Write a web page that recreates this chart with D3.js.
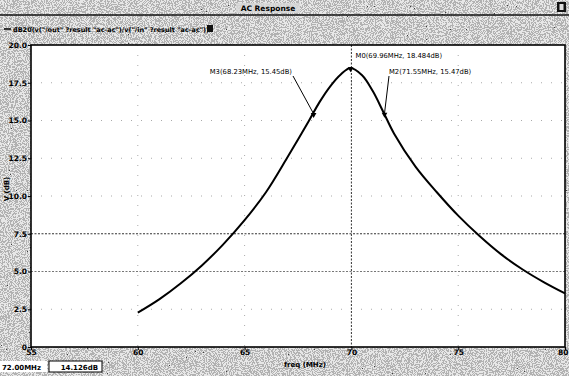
<!DOCTYPE html>
<html><head><meta charset="utf-8">
<script src="https://cdn.jsdelivr.net/npm/d3@7"></script>
<style>
html,body{margin:0;padding:0;background:#fff;}
svg{display:block;font-family:"DejaVu Sans",sans-serif;}
</style></head>
<body>
<svg id="c" width="569" height="376"></svg>
<script>
// ---- data ----
const freqMHz = [60, 61, 62, 63, 64, 65, 66, 67, 68, 68.5, 69, 69.5, 69.96, 70.5, 71, 71.5, 72, 73, 74, 75, 76, 77, 78, 79, 80];
const gainDB  = [2.27, 3.15, 4.2, 5.4, 6.8, 8.4, 10.25, 12.55, 14.95, 16.2, 17.25, 18.05, 18.484, 18.0, 16.95, 15.55, 14.126, 11.95, 10.25, 8.7, 7.35, 6.15, 5.15, 4.3, 3.55];
const markerNames = ["M0", "M3", "M2"];
const markerFreq  = [69.96, 68.23, 71.55];
const markerGain  = [18.484, 15.45, 15.47];
const markerText  = ["M0(69.96MHz, 18.484dB)", "M3(68.23MHz, 15.45dB)", "M2(71.55MHz, 15.47dB)"];
const xTicks = [55, 60, 65, 70, 75, 80];
const yTicks = [0, 2.5, 5, 7.5, 10, 12.5, 15, 17.5, 20];
const yTickLabels = ["0", "2.5", "5.0", "7.5", "10.0", "12.5", "15.0", "17.5", "20.0"];
const titleText = "AC Response";
const legendText = "dB20(v(\"/out\" ?result \"ac-ac\")/v(\"/in\" ?result \"ac-ac\"))";
const xTitle = "freq (MHz)";
const yTitle = "V (dB)";
const cursorFreqText = "72.00MHz";
const cursorValText = "14.126dB";

const svg = d3.select("#c");
const W = 569, H = 376;
const L = 31, R = 565, T = 45, B = 347;

// speckled (scanned) background
const defs = svg.append("defs");
const f = defs.append("filter").attr("id","noise").attr("x",0).attr("y",0).attr("width","100%").attr("height","100%");
f.append("feTurbulence").attr("type","fractalNoise").attr("baseFrequency",0.95).attr("numOctaves",2).attr("seed",7);
f.append("feColorMatrix").attr("type","saturate").attr("values",0);
const ct = f.append("feComponentTransfer");
["feFuncR","feFuncG","feFuncB"].forEach(n=>ct.append(n).attr("type","discrete").attr("tableValues","0.05 0.45 0.8 1"));
ct.append("feFuncA").attr("type","linear").attr("slope",0).attr("intercept",1);

svg.append("rect").attr("width",W).attr("height",H).attr("fill","#a8a8a8");
svg.append("rect").attr("width",W).attr("height",H).attr("filter","url(#noise)");

// title bar line
svg.append("line").attr("x1",0).attr("x2",W).attr("y1",15).attr("y2",15).attr("stroke","#111").attr("stroke-width",1.5);
svg.append("rect").attr("x",236).attr("y",3).attr("width",64).attr("height",10).attr("fill","#d8d8d8").attr("opacity",0.8);
svg.append("text").attr("x",268).attr("y",10.5).attr("text-anchor","middle")
  .attr("font-size",7.5).attr("font-weight","bold").attr("fill","#000").text(titleText);
svg.append("rect").attr("x",557).attr("y",2).attr("width",9).attr("height",10).attr("fill","#111");
svg.append("rect").attr("x",559.5).attr("y",4).attr("width",4).attr("height",6).attr("fill","#ddd");

// legend row
svg.append("line").attr("x1",4).attr("x2",11).attr("y1",29).attr("y2",29).attr("stroke","#000").attr("stroke-width",1.5);
svg.append("text").attr("x",13).attr("y",31.5).attr("font-size",6.5).attr("font-weight","bold").attr("fill","#000").text(legendText);
svg.append("rect").attr("x",207).attr("y",25).attr("width",6).attr("height",7).attr("fill","#111");

// plot area
svg.append("rect").attr("x",L).attr("y",T).attr("width",R-L).attr("height",B-T).attr("fill","#fff");

const x = d3.scaleLinear().domain([55,80]).range([L,R]);
const y = d3.scaleLinear().domain([0,20]).range([B,T]);

// grid
const g = svg.append("g");
g.selectAll("line.gy").data(yTicks.filter(v=>v>0&&v<20)).join("line")
  .attr("x1",L).attr("x2",R).attr("y1",d=>y(d)).attr("y2",d=>y(d))
  .attr("stroke",d=>d===7.5?"#333":(d===5?"#777":"#aaa"))
  .attr("stroke-width",1).attr("stroke-dasharray",d=>(d===7.5||d===5)?"2,1.5":"1,9");
g.selectAll("line.gx").data(xTicks.filter(v=>v>55&&v<80)).join("line")
  .attr("y1",T).attr("y2",B).attr("x1",d=>x(d)).attr("x2",d=>x(d))
  .attr("stroke",d=>d===70?"#333":"#aaa")
  .attr("stroke-width",1).attr("stroke-dasharray",d=>d===70?"2,1.5":"1,9");

// curve
const line = d3.line().x((d,i)=>x(freqMHz[i])).y((d,i)=>y(gainDB[i])).curve(d3.curveCatmullRom.alpha(0.5));
svg.append("path").datum(gainDB).attr("d",line).attr("fill","none").attr("stroke","#000").attr("stroke-width",2);

// frame
svg.append("rect").attr("x",L).attr("y",T).attr("width",R-L).attr("height",B-T)
  .attr("fill","none").attr("stroke","#000").attr("stroke-width",1.6);

// axes
const ya = svg.append("g").attr("transform",`translate(${L},0)`)
  .call(d3.axisLeft(y).tickValues(yTicks).tickFormat((d,i)=>yTickLabels[i]).tickSize(3).tickPadding(1));
const xa = svg.append("g").attr("transform",`translate(0,${B})`)
  .call(d3.axisBottom(x).tickValues(xTicks).tickFormat(d3.format("d")).tickSize(3).tickPadding(1));
[ya,xa].forEach(a=>{
  a.select(".domain").remove();
  a.selectAll("line").attr("stroke","#000");
  a.selectAll("text").attr("font-size",7.5).attr("font-weight","bold").attr("fill","#000").attr("font-family","DejaVu Sans, sans-serif");
});
xa.selectAll("text").attr("dy","0.55em");
xa.selectAll(".tick").filter(d=>d===80).select("text").attr("text-anchor","end").attr("x",3);

svg.append("text").attr("x",305).attr("y",367).attr("text-anchor","middle")
  .attr("font-size",7).attr("font-weight","bold").attr("fill","#000").text(xTitle);
svg.append("text").attr("transform","translate(9,189) rotate(-90)").attr("text-anchor","middle")
  .attr("font-size",7).attr("font-weight","bold").attr("fill","#000").text(yTitle);

// cursor readout
svg.append("rect").attr("x",0).attr("y",361).attr("width",47).attr("height",11).attr("fill","#fff");
svg.append("text").attr("x",2).attr("y",369.5).attr("font-size",7).attr("font-weight","bold").attr("fill","#000").text(cursorFreqText);
svg.append("rect").attr("x",49).attr("y",361).attr("width",53).attr("height",11).attr("fill","#fff").attr("stroke","#000").attr("stroke-width",1);
svg.append("text").attr("x",98).attr("y",369.5).attr("text-anchor","end").attr("font-size",7).attr("font-weight","bold").attr("fill","#000").text(cursorValText);

// markers
const labelPos = [
  {tx: x(markerFreq[0])+5, ty: 60, anchor:"start", lx: x(markerFreq[0])+5, ly: 60},
  {tx: 292, ty: 76, anchor:"end", lx: 293, ly: 76},
  {tx: 389, ty: 76, anchor:"start", lx: 389, ly: 76}
];
markerNames.forEach((m,i)=>{
  const px = x(markerFreq[i]), py = y(markerGain[i]);
  const p = labelPos[i];
  if (i>0) svg.append("line").attr("x1",p.lx).attr("y1",p.ly).attr("x2",px).attr("y2",py).attr("stroke","#000").attr("stroke-width",1);
  svg.append("path").attr("d",d3.symbol(d3.symbolTriangle,14)()).attr("transform",`translate(${px},${py+1}) rotate(180)`).attr("fill","#000");
  svg.append("text").attr("x",p.tx).attr("y",p.ty-2).attr("text-anchor",p.anchor)
    .attr("font-size",6.8).attr("fill","#000").text(markerText[i]);
});
</script>
</body></html>
